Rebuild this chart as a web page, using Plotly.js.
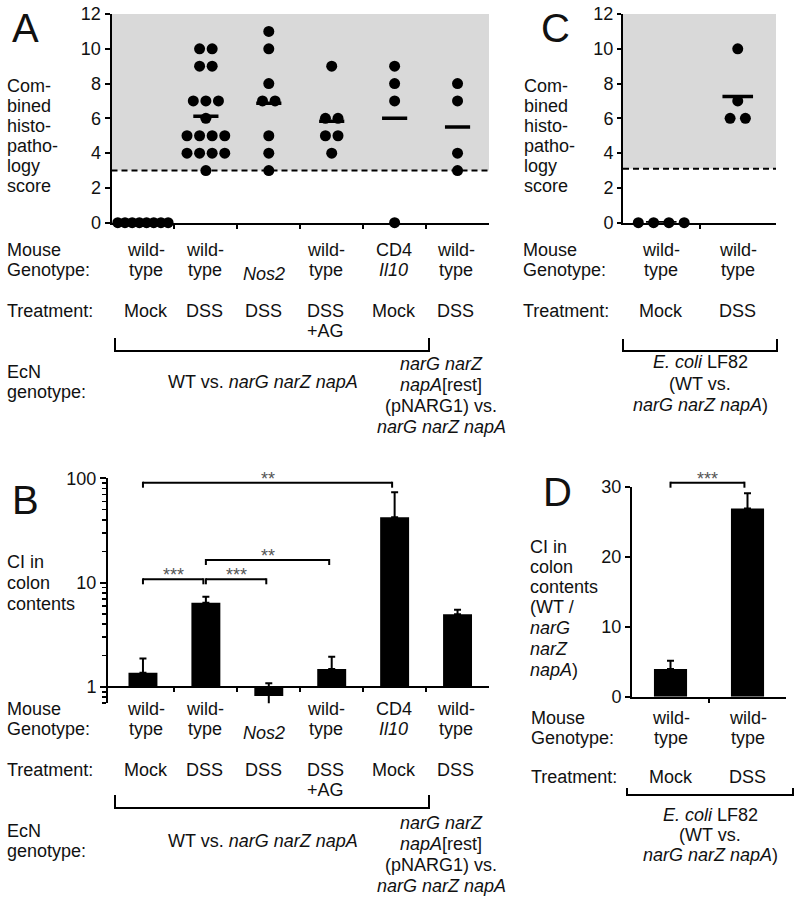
<!DOCTYPE html>
<html><head><meta charset="utf-8">
<script src="https://cdn.plot.ly/plotly-3.0.1.min.js"></script>
<style>html,body{margin:0;padding:0;background:#fff}#chart{width:800px;height:907px}</style>
</head><body><div id="chart"></div>
<script>
// ---------------- data ----------------
// Panel A: combined histopathology score (EcN)
const scoreWtMock      = [0,0,0,0,0,0,0,0];
const scoreWtDSS       = [10,10,9,9,7,7,7,6,5,5,5,5,4,4,4,4,3];
const scoreNos2DSS     = [11,10,8,7,7,5,4,3];
const scoreWtDSSAG     = [9,6,6,5,5,4];
const scoreCd4Il10Mock = [9,8,7,0];
const scoreWtDSSRest   = [8,7,4,3];
const thresholdA = 3;
// Panel C: combined histopathology score (E. coli LF82)
const scoreLF82Mock = [0,0,0,0];
const scoreLF82DSS  = [10,7,6,6];
const thresholdC = 3.1;
// Panel B: CI in colon contents (log scale)
const ciEcN         = [1.37, 6.43, 0.82, 1.49, 42.4, 4.98];
const ciEcNErrUp    = [0.51, 0.91, 0.265, 0.46, 31.2, 0.53];
const ciEcNErrDown  = [0, 0, 0.16, 0, 0, 0];
// Panel D: CI in colon contents (linear)
const ciLF82        = [3.95, 26.9];
const ciLF82ErrUp   = [1.2, 2.15];
// category labels
const genoLine1  = ['wild-','wild-','','wild-','CD4','wild-'];
const genoLine2  = ['type','type','<i>Nos2</i>','type','<i>Il10</i>','type'];
const treatLine1 = ['Mock','DSS','DSS','DSS','Mock','DSS'];
const treatLine2 = ['','','','+AG','',''];
const genoLF82Line1 = ['wild-','wild-'];
const genoLF82Line2 = ['type','type'];
const treatLF82     = ['Mock','DSS'];
// tick labels
const scoreTicks = [0,2,4,6,8,10,12];
const ciLogTicks = [1,10,100];
const ciLogMinor = [0.7,0.8,0.9,2,3,4,5,6,7,8,9,20,30,40,50,60,70,80,90];
const ciLinTicks = [0,10,20,30];
// significance comparisons [from, to, label]
const sigEcN  = [[0,4,'**'],[0,1,'***'],[1,2,'***'],[1,3,'**']];
const sigLF82 = [[0,1,'***']];

// ---------------- helpers ----------------
const W = 800, H = 907;
const fx = p => p / W;
const fy = p => 1 - p / H;
const FONT = 'Liberation Sans, Arial, sans-serif';
const INK = '#111';

function swarm(values, center) {
  const counts = new Map();
  values.forEach(v => counts.set(v, (counts.get(v) || 0) + 1));
  const xs = [], ys = [];
  counts.forEach((n, v) => {
    const sp = n > 1 ? Math.min(0.2, 0.8 / (n - 1)) : 0;
    for (let k = 0; k < n; k++) { xs.push(center + (k - (n - 1) / 2) * sp); ys.push(v); }
  });
  return {xs, ys};
}
const mean = a => a.reduce((s, v) => s + v, 0) / a.length;

function dotTraces(groups, xa, ya) {
  const x = [], y = [], mx = [], my = [];
  groups.forEach((g, i) => {
    const s = swarm(g, i); x.push(...s.xs); y.push(...s.ys);
    const m = mean(g); mx.push(i - 0.2, i + 0.2, null); my.push(m, m, null);
  });
  return [
    {type:'scatter', mode:'markers', x, y, xaxis:xa, yaxis:ya, cliponaxis:false,
     marker:{size:11, color:'#000'}, hoverinfo:'skip'},
    {type:'scatter', mode:'lines', x:mx, y:my, xaxis:xa, yaxis:ya, cliponaxis:false,
     line:{color:'#000', width:3.5}, hoverinfo:'skip'}
  ];
}

const groupsA = [scoreWtMock, scoreWtDSS, scoreNos2DSS, scoreWtDSSAG, scoreCd4Il10Mock, scoreWtDSSRest];
const groupsC = [scoreLF82Mock, scoreLF82DSS];
const idxA = groupsA.map((_, i) => i);
const idxC = groupsC.map((_, i) => i);

const traces = [
  ...dotTraces(groupsA, 'x', 'y'),
  ...dotTraces(groupsC, 'x2', 'y2'),
  {type:'bar', x:idxA, y:ciEcN.map(v => v - 1), base:1, xaxis:'x3', yaxis:'y3', width:0.46,
   marker:{color:'#000', line:{width:0}}, hoverinfo:'skip'},
  {type:'scatter', mode:'markers', x:idxA, y:ciEcN, xaxis:'x3', yaxis:'y3', cliponaxis:false,
   marker:{size:1, color:'rgba(0,0,0,0)'}, hoverinfo:'skip',
   error_y:{type:'data', symmetric:false, array:ciEcNErrUp, arrayminus:ciEcNErrDown,
            color:'#000', thickness:2, width:3.5}},
  {type:'bar', x:idxC, y:ciLF82, xaxis:'x4', yaxis:'y4', width:0.43,
   marker:{color:'#000', line:{width:0}}, hoverinfo:'skip'},
  {type:'scatter', mode:'markers', x:idxC, y:ciLF82, xaxis:'x4', yaxis:'y4', cliponaxis:false,
   marker:{size:1, color:'rgba(0,0,0,0)'}, hoverinfo:'skip',
   error_y:{type:'data', symmetric:false, array:ciLF82ErrUp, arrayminus:ciLF82.map(() => 0),
            color:'#000', thickness:2, width:3.5}}
];

// ---------------- layout ----------------
const axBase = {showgrid:false, zeroline:false, showline:true, linecolor:'#000', linewidth:2,
  ticks:'outside', tickcolor:'#000', tickwidth:2, ticklen:5, fixedrange:true,
  tickfont:{family:FONT, size:18, color:INK}};
const xCat = (dom, n, extra) => Object.assign({}, axBase, {domain:dom, range:[-0.5 - (extra||0), n - 0.5],
  tickmode:'array', tickvals:Array.from({length:n - 1}, (_, i) => i + 0.5), showticklabels:false, ticklen:4});

const layout = {
  width:W, height:H, margin:{l:0, r:0, t:0, b:0}, showlegend:false,
  paper_bgcolor:'#fff', plot_bgcolor:'rgba(0,0,0,0)',
  xaxis:  Object.assign(xCat([fx(111.5), fx(489)], 6), {anchor:'y'}),
  yaxis:  Object.assign({}, axBase, {domain:[fy(222.7), fy(14)], range:[0, 12], anchor:'x',
           tickmode:'array', tickvals:scoreTicks}),
  xaxis2: Object.assign(xCat([fx(623), fx(776)], 2), {anchor:'y2'}),
  yaxis2: Object.assign({}, axBase, {domain:[fy(222.7), fy(14)], range:[0, 12], anchor:'x2',
           tickmode:'array', tickvals:scoreTicks, ticklen:4}),
  xaxis3: Object.assign(xCat([fx(108), fx(489)], 6, 3.5 / 62.9), {anchor:'free', position:fy(687)}),
  yaxis3: Object.assign({}, axBase, {domain:[fy(703.2), fy(478.3)], type:'log',
           range:[Math.log10(0.7), 2], anchor:'x3', tickmode:'array', tickvals:ciLogTicks,
           ticktext:ciLogTicks.map(String), ticklen:6,
           minor:{tickmode:'array', tickvals:ciLogMinor, ticks:'outside', ticklen:4, tickwidth:1.5, tickcolor:'#000', showgrid:false}}),
  xaxis4: Object.assign(xCat([fx(632), fx(786)], 2), {anchor:'y4'}),
  yaxis4: Object.assign({}, axBase, {domain:[fy(696.7), fy(486.7)], range:[0, 30], anchor:'x4',
           tickmode:'array', tickvals:ciLinTicks}),
  shapes:[], annotations:[]
};

const S = layout.shapes, A = layout.annotations;
// shaded region and threshold line
[['x','y',thresholdA],['x2','y2',thresholdC]].forEach(([xa, ya, t]) => {
  S.push({type:'rect', layer:'below', xref:xa + ' domain', yref:ya, x0:0, x1:1, y0:t, y1:12,
          fillcolor:'#d9d9d9', line:{width:0}});
  S.push({type:'line', layer:'below', xref:xa + ' domain', yref:ya, x0:0, x1:1, y0:t, y1:t,
          line:{color:'#000', width:2, dash:'6px,4px'}});
});

function text(x, y, t, opt) {
  opt = opt || {};
  A.push({xref:opt.xref || 'paper', yref:'paper', x:opt.xref ? x : fx(x), y:fy(y), text:t,
    showarrow:false, xanchor:opt.anchor || 'left', yanchor:'middle', xshift:opt.xshift || 0,
    font:{family:FONT, size:opt.size || 18, color:opt.color || INK}});
}
function lines(x, ys, arr, opt) { arr.forEach((t, i) => text(x, ys[i], t, opt)); }
function bracketDown(x0, x1, yTop, yBot) {
  S.push({type:'path', xref:'paper', yref:'paper',
    path:`M${fx(x0)},${fy(yTop)} L${fx(x0)},${fy(yBot)} L${fx(x1)},${fy(yBot)} L${fx(x1)},${fy(yTop)}`,
    line:{color:'#000', width:2}});
}
function sigBrackets(list, xa, levels) {
  list.forEach(([i, j, lab], k) => {
    const x0 = i, x1 = j - 0.04, lv = levels[k];
    S.push({type:'line', xref:xa, yref:'paper', x0, x1, y0:fy(lv), y1:fy(lv), line:{color:'#000', width:2}});
    [x0, x1].forEach(xx => S.push({type:'line', xref:xa, yref:'paper', ysizemode:'pixel', yanchor:fy(lv),
      x0:xx, x1:xx, y0:1, y1:-5, line:{color:'#000', width:2}}));
    A.push({xref:xa, yref:'paper', x:(x0 + x1) / 2, y:fy(lv - 4), text:lab, showarrow:false,
      xanchor:'center', yanchor:'middle', font:{family:FONT, size:18, color:'#555'}});
  });
}

// panel letters
text(25, 28, 'A', {anchor:'center', size:40});
text(555, 28, 'C', {anchor:'center', size:40});
text(25, 500, 'B', {anchor:'center', size:40});
text(557, 492, 'D', {anchor:'center', size:40});

// y-axis titles
const scoreTitle = ['Com-','bined','histo-','patho-','logy','score'];
const scoreTitleY = [86,106,126,146,166,186];
lines(5, scoreTitleY, scoreTitle);
lines(522, scoreTitleY, scoreTitle);
lines(5, [562,583,604], ['CI in','colon','contents']);
lines(528, [547,567,587,607,628,649,670], ['CI in','colon','contents','(WT /','<i>narG</i>','<i>narZ</i>','<i>napA</i>)']);

// row labels below A and B
const labShift = [3, -1, -5, -6, -1, -2];
function ecnTable(dy, brTop, brBot) {
  lines(5, [250 + dy, 270 + dy], ['Mouse','Genotype:']);
  text(5, 311 + dy, 'Treatment:');
  lines(5, [372 + dy, 392 + dy], ['EcN','genotype:']);
  idxA.forEach(i => {
    const o = {xref:'x', anchor:'center', xshift:labShift[i]};
    if (genoLine1[i]) text(i, 250 + dy, genoLine1[i], o);
    text(i, (genoLine1[i] ? 270 : 274) + dy, genoLine2[i], o);
    text(i, 311 + dy, treatLine1[i], o);
    if (treatLine2[i]) text(i, 331 + dy, treatLine2[i], o);
  });
  bracketDown(115, 429, brTop, brBot);
  text(263, 382 + dy, 'WT vs. <i>narG narZ napA</i>', {anchor:'center'});
  lines(441, [364 + dy, 385 + dy, 406 + dy, 427 + dy],
    ['<i>narG narZ</i>','<i>napA</i>[rest]','(pNARG1) vs.','<i>narG narZ napA</i>'], {anchor:'center'});
}
ecnTable(0, 338, 351);
ecnTable(459, 795, 808);

// row labels below C
lines(521, [250, 270], ['Mouse','Genotype:']);
text(521, 311, 'Treatment:');
idxC.forEach(i => {
  const o = {xref:'x2', anchor:'center'};
  text(i, 250, genoLF82Line1[i], o); text(i, 270, genoLF82Line2[i], o); text(i, 311, treatLF82[i], o);
});
bracketDown(623, 777, 339, 351);
lines(700, [362, 384, 405], ['<i>E. coli</i> LF82','(WT vs.','<i>narG narZ napA</i>)'], {anchor:'center'});

// row labels below D
lines(529, [718, 738], ['Mouse','Genotype:']);
text(529, 777, 'Treatment:');
idxC.forEach(i => {
  const o = {xref:'x4', anchor:'center'};
  text(i, 718, genoLF82Line1[i], o); text(i, 738, genoLF82Line2[i], o); text(i, 777, treatLF82[i], o);
});
bracketDown(627, 793, 788, 795);
lines(710, [815, 835, 855], ['<i>E. coli</i> LF82','(WT vs.','<i>narG narZ napA</i>)'], {anchor:'center'});

// significance brackets
sigBrackets(sigEcN, 'x3', [482.7, 579.3, 579.3, 560]);
sigBrackets(sigLF82, 'x4', [482.7]);

Plotly.newPlot('chart', traces, layout, {staticPlot:true, displayModeBar:false});
</script>
</body></html>
